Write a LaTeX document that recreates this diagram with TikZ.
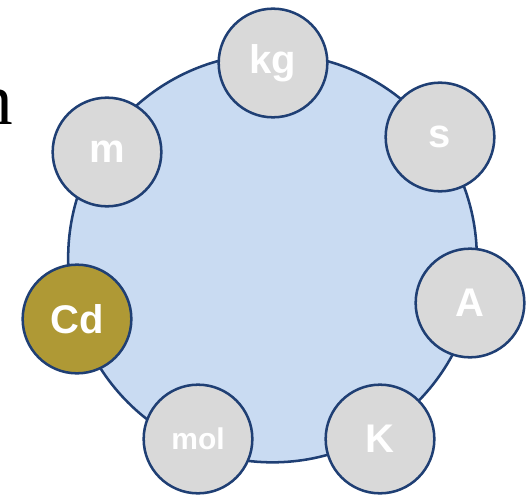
\documentclass[tikz,border=0pt]{standalone}
\usepackage{fontspec}
\setmainfont{Liberation Serif}
\setsansfont{Liberation Sans}
\definecolor{ringline}{HTML}{1F3F74}
\definecolor{bigfill}{HTML}{C9DBF2}
\definecolor{unitfill}{HTML}{D9D9D9}
\definecolor{cdfill}{HTML}{AF9935}
\tikzset{
  unit/.style={circle, draw=ringline, line width=1.9pt, fill=unitfill,
    minimum size=81.5pt, inner sep=0pt, text=white,
    font=\sffamily\bfseries\fontsize{30}{30}\selectfont},
  bigring/.style={circle, draw=ringline, line width=1.9pt, fill=bigfill,
    minimum size=306.5pt, inner sep=0pt},
}
\begin{document}
\begin{tikzpicture}[x=0.75pt,y=-0.75pt]
\useasboundingbox (0,0) rectangle (527,495);
\node[anchor=base east, inner sep=0pt, font=\fontsize{55}{55}\selectfont] (nchar) at (13,125) {n};
\node[bigring] (big) at (272.5,258) {};
\node[unit] (kg) at (273,63) {kg};
\node[unit] (s) at (440,137) {s};
\node[unit] (A) at (470,303) {A};
\node[unit] (K) at (380,439) {K};
\node[unit, font=\sffamily\bfseries\fontsize{22.5}{22.5}\selectfont] (mol) at (198,439) {mol};
\node[unit, fill=cdfill] (Cd) at (77,319) {Cd};
\node[unit] (m) at (107,152) {m};
\end{tikzpicture}
\end{document}
